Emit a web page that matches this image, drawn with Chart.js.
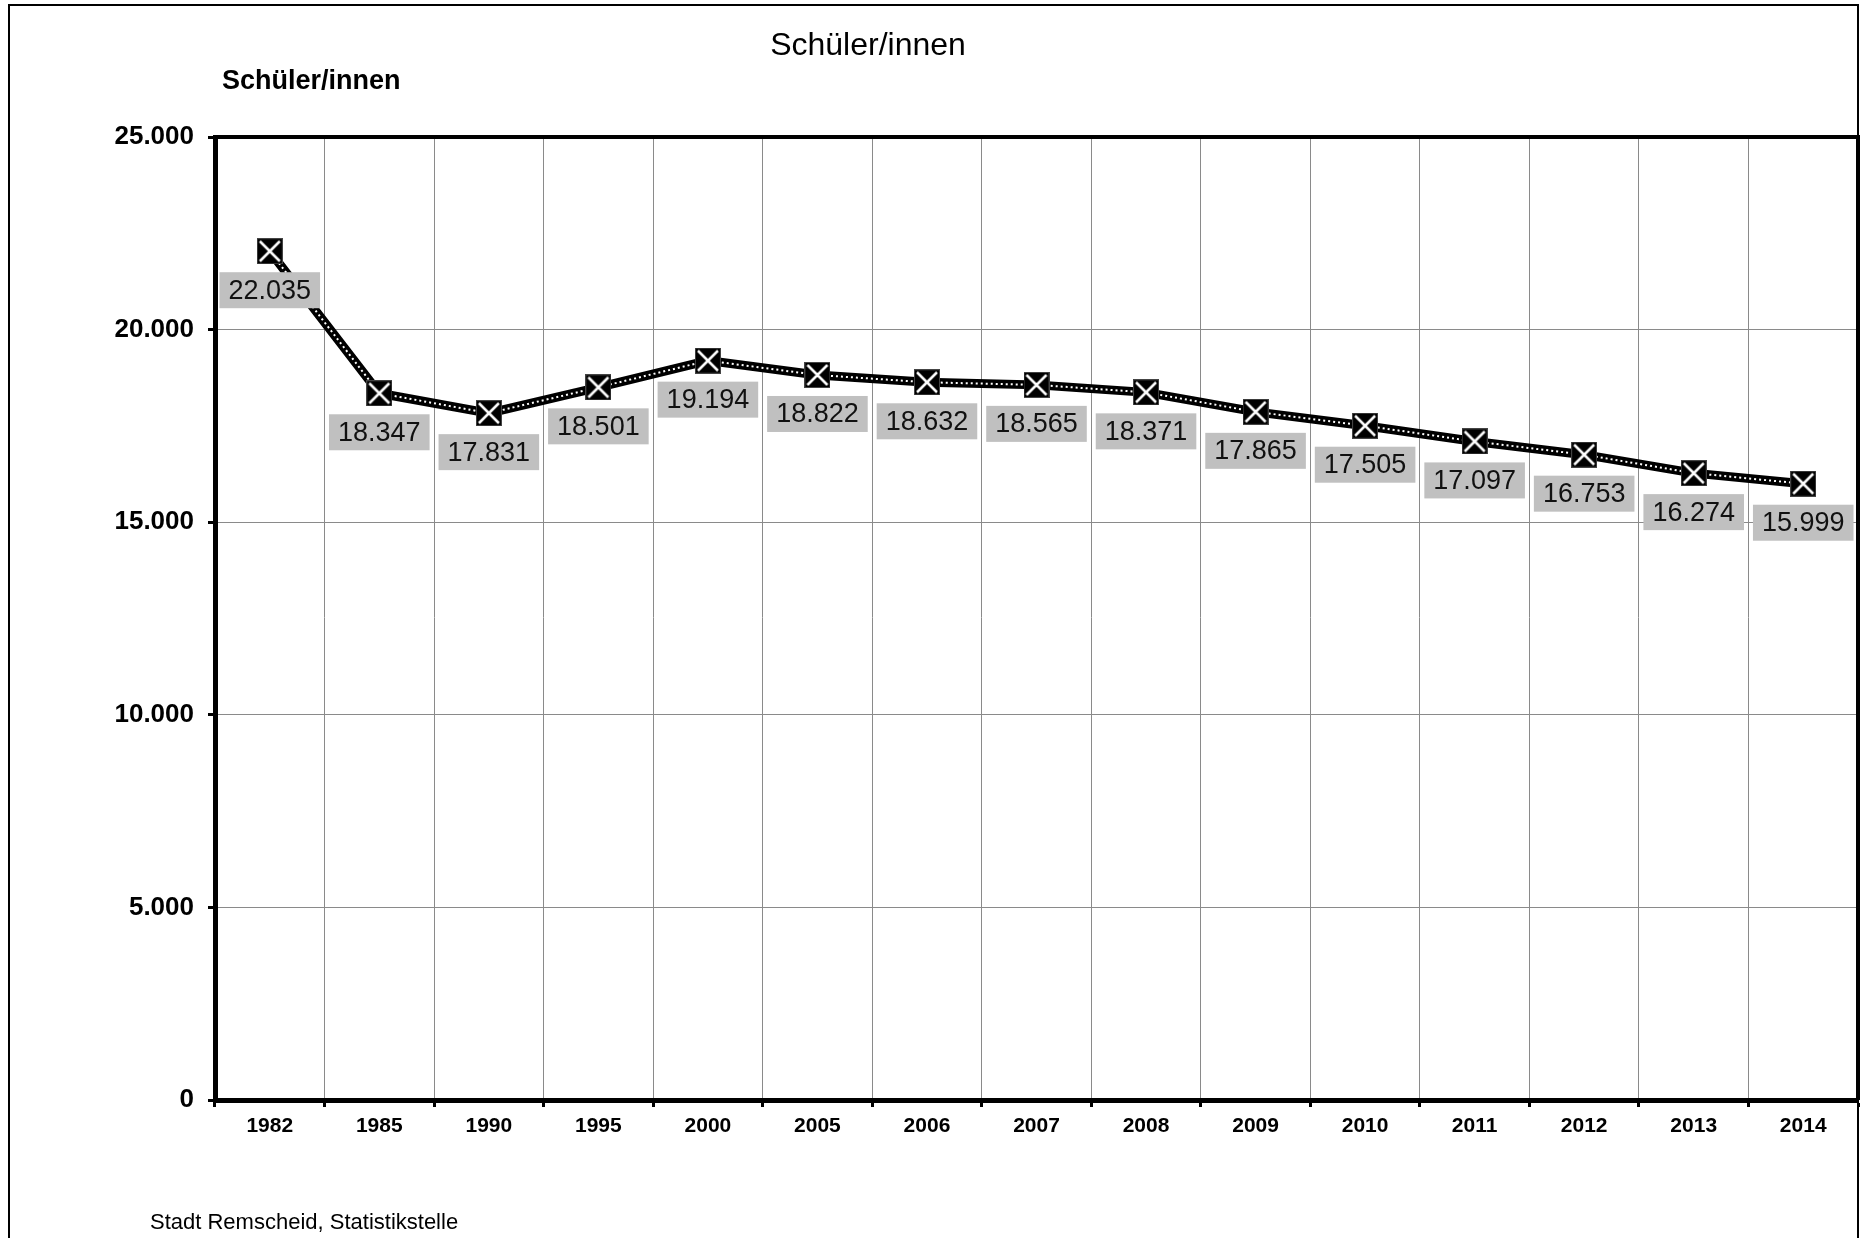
<!DOCTYPE html>
<html>
<head>
<meta charset="utf-8">
<script src="https://cdn.jsdelivr.net/npm/chart.js@4.4.1/dist/chart.umd.min.js"></script>
<style>
  html, body { margin: 0; padding: 0; background: #fff; overflow: hidden; }
  #wrap { position: absolute; left: 0; top: 0; width: 1865px; height: 1238px; }
  .txt { position: absolute; font-family: "Liberation Sans", Arial, sans-serif; color: #000; white-space: nowrap; }
  #title { left: 868px; top: 44px; transform: translate(-50%, -50%); font-size: 32px; }
  #ytitle { left: 222px; top: 80px; transform: translateY(-50%); font-size: 27px; font-weight: bold; }
  #source { left: 150px; top: 1222px; transform: translateY(-50%); font-size: 22px; }
</style>
</head>
<body>
<div id="wrap"><canvas id="c"></canvas></div>
<div class="txt" id="title">Schüler/innen</div>
<div class="txt" id="ytitle">Schüler/innen</div>
<div class="txt" id="source">Stadt Remscheid, Statistikstelle</div>
<script>
// Schüler/innen in Remscheid, 1982-2014
const years = ["1982", "1985", "1990", "1995", "2000", "2005", "2006", "2007", "2008", "2009", "2010", "2011", "2012", "2013", "2014"];
const pupils = [22035, 18347, 17831, 18501, 19194, 18822, 18632, 18565, 18371, 17865, 17505, 17097, 16753, 16274, 15999];
const yMin = 0, yMax = 25000, yStep = 5000;

const FONT = "'Liberation Sans', Arial, sans-serif";

// German thousands separator
const fmt = v => String(Math.round(v)).replace(/\B(?=(\d{3})+(?!\d))/g, ".");

// black square marker with white X
const marker = (() => {
  const c = document.createElement("canvas");
  c.width = 26; c.height = 26;
  const g = c.getContext("2d");
  g.fillStyle = "#000"; g.fillRect(0, 0, 26, 26);
  g.strokeStyle = "#444"; g.lineWidth = 1; g.strokeRect(0.5, 0.5, 25, 25);
  g.strokeStyle = "#fff"; g.lineWidth = 2.5;
  g.beginPath(); g.moveTo(3, 3); g.lineTo(23, 23); g.moveTo(23, 3); g.lineTo(3, 23); g.stroke();
  return c;
})();

const framePlugin = {
  id: "frame",
  beforeDraw(chart) {
    const ctx = chart.ctx;
    ctx.save();
    ctx.strokeStyle = "#000"; ctx.lineWidth = 2;
    ctx.strokeRect(9, 5, 1849, 1400);
    ctx.restore();
  },
  afterDraw(chart) {
    const a = chart.chartArea, ctx = chart.ctx;
    ctx.save();
    ctx.strokeStyle = "#000"; ctx.lineWidth = 4;
    ctx.beginPath();
    ctx.moveTo(a.left, a.top); ctx.lineTo(a.right, a.top); ctx.lineTo(a.right, a.bottom);
    ctx.stroke();
    ctx.restore();
  }
};

const labelPlugin = {
  id: "valueLabels",
  afterDatasetsDraw(chart) {
    const ctx = chart.ctx;
    const meta = chart.getDatasetMeta(2);
    ctx.save();
    ctx.font = "27px " + FONT;
    ctx.textAlign = "center";
    ctx.textBaseline = "middle";
    meta.data.forEach((pt, i) => {
      const t = fmt(pupils[i]);
      const w = ctx.measureText(t).width + 18, h = 36;
      const cx = pt.x, cy = pt.y + 39;
      ctx.fillStyle = "#c0c0c0";
      ctx.fillRect(cx - w / 2, cy - h / 2, w, h);
      ctx.fillStyle = "#111";
      ctx.fillText(t, cx, cy + 1);
    });
    ctx.restore();
  }
};

new Chart(document.getElementById("c"), {
  type: "line",
  data: {
    labels: years,
    datasets: [
      { data: pupils, borderColor: "#000", borderWidth: 9, pointRadius: 0, order: 3 },
      { data: pupils, borderColor: "#fff", borderWidth: 2, borderDash: [2, 3], pointRadius: 0, order: 2 },
      { data: pupils, showLine: false, pointStyle: marker, pointRadius: 13, order: 1 }
    ]
  },
  options: {
    responsive: true, maintainAspectRatio: false, animation: false, devicePixelRatio: 1,
    layout: { autoPadding: false, padding: { left: 0, top: 137, right: 7, bottom: 78 } },
    plugins: { legend: { display: false }, tooltip: { enabled: false } },
    scales: {
      x: {
        offset: true,
        grid: { offset: true, color: "#8a8a8a", lineWidth: 1, tickColor: "#000", tickWidth: 3, tickLength: 7 },
        border: { color: "#000", width: 5 },
        ticks: { color: "#000", padding: 7, font: { family: FONT, size: 21, weight: "bold" }, maxRotation: 0 },
        afterFit: s => { s.height = 60; }
      },
      y: {
        min: yMin, max: yMax,
        grid: { color: "#8a8a8a", lineWidth: 1, tickColor: "#000", tickWidth: 3, tickLength: 7 },
        border: { color: "#000", width: 5 },
        ticks: { stepSize: yStep, color: "#000", padding: 14, font: { family: FONT, size: 26, weight: "bold" }, callback: v => fmt(v) },
        afterFit: s => { s.width = 215; }
      }
    }
  },
  plugins: [framePlugin, labelPlugin]
});
</script>
</body>
</html>
